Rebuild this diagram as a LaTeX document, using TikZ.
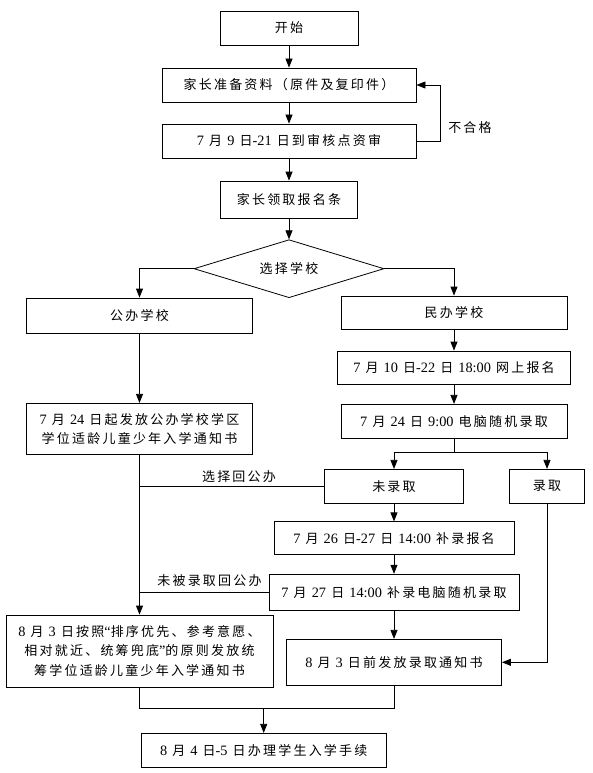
\documentclass[tikz,border=0pt]{standalone}
\usepackage{fontspec}
\setmainfont{Noto Sans CJK SC}[LetterSpace=17]
\newfontfamily\nm{Liberation Serif}[Scale=1.1]
\usetikzlibrary{arrows.meta,shapes.geometric}

\tikzset{
  box/.style={draw,line width=0.8pt,inner sep=0pt,align=center,
    font=\fontsize{13}{19.5}\selectfont},
  choice/.style={diamond,draw,line width=0.8pt,inner sep=0pt,aspect=3.3,
    minimum width=190pt,minimum height=58pt,font=\fontsize{13}{19.5}\selectfont},
  lbl/.style={inner sep=0pt,font=\fontsize{13}{19.5}\selectfont},
  link/.style={line width=0.8pt},
  arr/.style={link,-{Triangle[length=9pt,width=7pt]}}
}

\begin{document}
\begin{tikzpicture}[x=1pt,y=-1pt]
\useasboundingbox (0,0) rectangle (592,773);

\node[box,minimum width=138pt,minimum height=34pt] (start) at (289,28) {开始};
\node[box,minimum width=254pt,minimum height=34pt] (prep) at (289,85) {家长准备资料（原件及复印件）};
\node[box,minimum width=254pt,minimum height=34pt] (check) at (289,141) {{\nm 7} 月 {\nm 9} 日{\nm -21} 日到审核点资审};
\node[box,minimum width=137pt,minimum height=37pt] (slip) at (289,199.5) {家长领取报名条};
\node[choice] (choose) at (289,268.7) {选择学校};
\node[box,minimum width=226pt,minimum height=35pt] (pub) at (139.5,315.5) {公办学校};
\node[box,minimum width=226pt,minimum height=33pt] (priv) at (454,312.5) {民办学校};
\node[box,minimum width=233pt,minimum height=33pt] (online) at (454,367.5) {{\nm 7} 月 {\nm 10} 日{\nm -22} 日 {\nm 18:00} 网上报名};
\node[box,minimum width=226pt,minimum height=34pt] (lottery) at (454,421.3) {{\nm 7} 月 {\nm 24} 日 {\nm 9:00} 电脑随机录取};
\node[box,minimum width=226pt,minimum height=51pt] (pubnote) at (139.5,428.8) {{\nm 7} 月 {\nm 24} 日起发放公办学校学区\\学位适龄儿童少年入学通知书};
\node[box,minimum width=139pt,minimum height=34pt] (miss) at (394,486.3) {未录取};
\node[box,minimum width=75pt,minimum height=34pt] (admit) at (547,486.3) {录取};
\node[box,minimum width=240pt,minimum height=33pt] (supreg) at (394,538.3) {{\nm 7} 月 {\nm 26} 日{\nm -27} 日 {\nm 14:00} 补录报名};
\node[box,minimum width=250pt,minimum height=36pt] (suplot) at (394,592.2) {{\nm 7} 月 {\nm 27} 日 {\nm 14:00} 补录电脑随机录取};
\node[box,minimum width=215pt,minimum height=46pt] (privnote) at (394,662.3) {{\nm 8} 月 {\nm 3} 日前发放录取通知书};
\node[box,minimum width=267pt,minimum height=72pt] (allot) at (139.5,651) {{\nm 8} 月 {\nm 3} 日按照{\nm “}排序优先、参考意愿、\\相对就近、统筹兜底{\nm ”}的原则发放统\\筹学位适龄儿童少年入学通知书};
\node[box,minimum width=245pt,minimum height=34pt] (enrol) at (263.7,750.3) {{\nm 8} 月 {\nm 4} 日{\nm -5} 日办理学生入学手续};

\node[lbl] (fail) at (470,128) {不合格};
\node[lbl] (back1) at (239,477) {选择回公办};
\node[lbl] (back2) at (209.5,580.5) {未被录取回公办};

\coordinate (fork) at (454,452.7);
\coordinate (join) at (263.7,708.7);

\draw[arr] (start) -- (prep);
\draw[arr] (prep) -- (check);
\draw[arr] (check) -- (slip);
\draw[arr] (slip) -- (choose);
\draw[arr] (check.east) -- ++(24,0) |- (prep.east);
\draw[arr] (choose.west) -| (pub);
\draw[arr] (choose.east) -| (priv);
\draw[arr] (pub) -- (pubnote);
\draw[arr] (priv) -- (online);
\draw[arr] (online) -- (lottery);
\draw[link] (lottery) -- (fork);
\draw[arr] (fork) -| (miss);
\draw[arr] (fork) -| (admit);
\draw[link] (miss.west) -- (miss.west -| pubnote.south);
\draw[arr] (pubnote.south) -- (pubnote.south |- allot.north);
\draw[arr] (miss) -- (supreg);
\draw[arr] (supreg) -- (suplot);
\draw[link] (suplot.west) -- (suplot.west -| allot.north);
\draw[arr] (suplot) -- (privnote);
\draw[arr] (admit) |- (privnote);
\draw[link] (allot) |- (join) -| (privnote);
\draw[arr] (join) -- (enrol);

\end{tikzpicture}
\end{document}
